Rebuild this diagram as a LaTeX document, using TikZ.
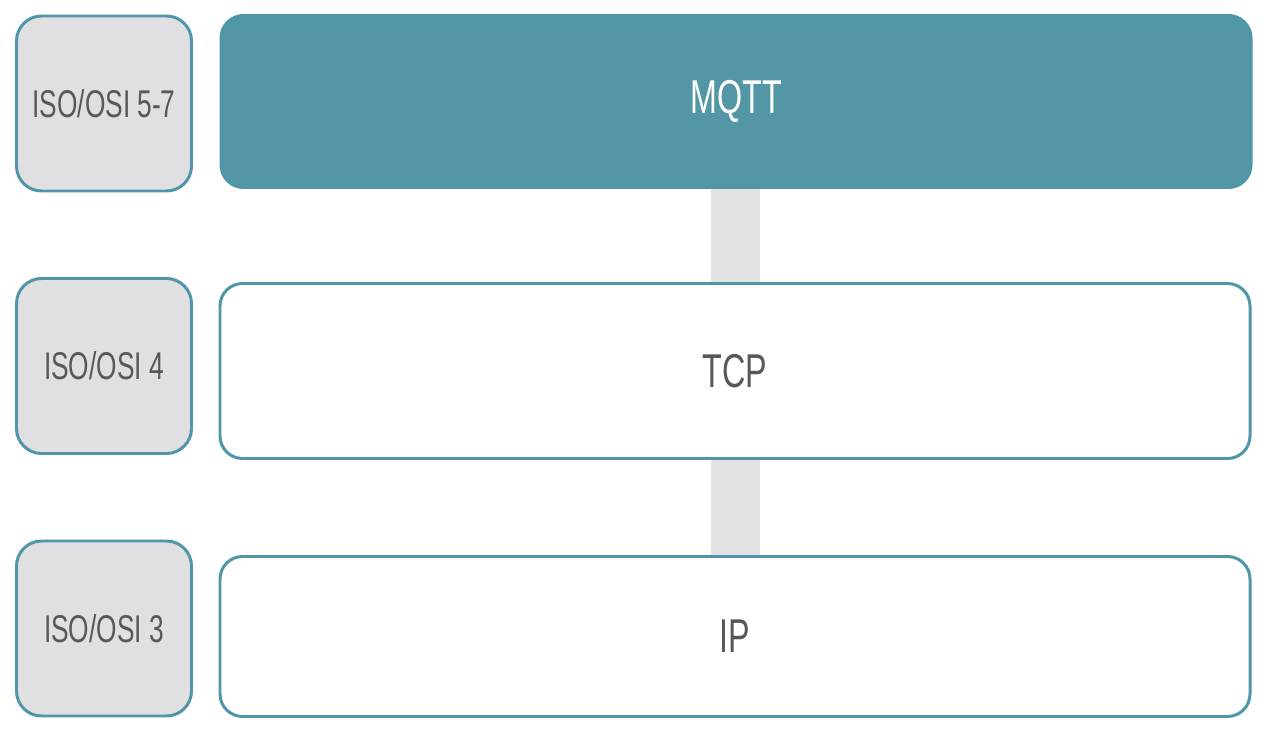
\documentclass[tikz,border=0pt]{standalone}
\usepackage{fontspec}
\setmainfont{Liberation Sans}[FakeStretch=0.68]
\usetikzlibrary{backgrounds}
\definecolor{tealfill}{HTML}{5397A7}
\definecolor{tealline}{HTML}{4F96A8}
\definecolor{isogray}{HTML}{E0E0E3}
\definecolor{bargray}{HTML}{E3E3E3}
\definecolor{textgray}{HTML}{58585A}
\tikzset{
	isobox/.style={draw=tealline,line width=1.7pt,fill=isogray,rounded corners=0.5cm,
		minimum width=3.5cm,minimum height=3.5cm,text=textgray,font=\fontsize{22}{24}\selectfont},
	layerbox/.style={draw=tealline,line width=1.7pt,fill=white,rounded corners=0.45cm,
		minimum width=20.6cm,text=textgray,font=\fontsize{27}{30}\selectfont},
	bar/.style={bargray,line width=0.98cm}
}
\begin{document}
\begin{tikzpicture}
	\useasboundingbox (0,0) rectangle (25.4,14.8);
	% ISO/OSI levels
	\node[isobox] (iso57) at (2.08,12.73) {ISO/OSI 5-7};
	\node[isobox] (iso4) at (2.08,7.48) {ISO/OSI 4};
	\node[isobox] (iso3) at (2.08,2.23) {ISO/OSI 3};
	% protocol stack
	\node[layerbox,fill=tealfill,text=white,minimum height=3.44cm] (mqtt) at (14.72,12.77) {MQTT};
	\node[layerbox,minimum height=3.5cm] (tcp) at (14.70,7.38) {TCP};
	\node[layerbox,minimum height=3.2cm] (ip) at (14.70,2.07) {IP};
	\begin{pgfonlayer}{background}
		\draw[bar] (tcp.north) ++(0,-0.1) -- (mqtt.south -| tcp.north);
		\draw[bar] (tcp.south) ++(0,0.1) -- (ip.north);
	\end{pgfonlayer}
\end{tikzpicture}
\end{document}
